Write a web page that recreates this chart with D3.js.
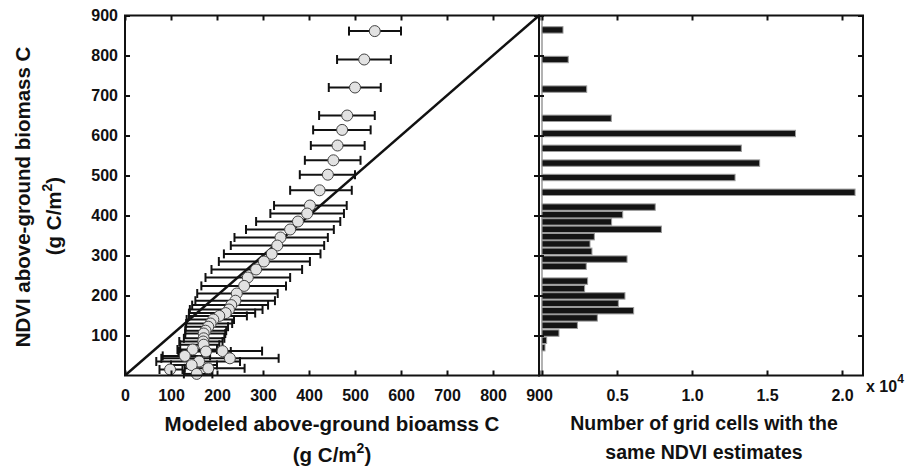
<!DOCTYPE html>
<html>
<head>
<meta charset="utf-8">
<script src="https://cdn.jsdelivr.net/npm/d3@7"></script>
<style>
  body { margin: 0; background: #fff; }
  svg text { font-family: "Liberation Sans", Arial, sans-serif; font-weight: bold; fill: #111; }
</style>
</head>
<body>
<svg id="chart" width="918" height="467"></svg>
<script>
// NDVI level (y) of each point, modeled mean and its error range (x)
const pointNdvi  = [861, 790, 720, 650, 614, 575, 538, 502, 463, 425, 405, 385, 365, 345, 325, 304, 285, 265, 245, 224, 205,
                    187, 176, 165, 156, 149, 140, 130, 122, 112, 105, 93, 85, 77, 65, 60, 61, 49, 43, 35, 26, 18, 15, 4];
const pointModel = [543, 520, 500, 483, 472, 462, 453, 441, 423, 402, 396, 376, 359, 338, 331, 319, 302, 285, 267, 259, 243,
                    240, 231, 226, 219, 205, 192, 186, 181, 175, 171, 171, 170, 171, 147, 176, 212, 130, 228, 161, 145, 181, 98, 156];
const pointLow   = [487, 461, 443, 422, 409, 404, 391, 380, 359, 324, 316, 285, 263, 238, 230, 215, 204, 188, 175, 166, 157,
                    153, 146, 141, 139, 139, 134, 133, 132, 131, 131, 128, 118, 120, 114, 118, 116, 82, 79, 68, 100, 130, 75, 128];
const pointHigh  = [600, 578, 556, 543, 534, 521, 512, 500, 493, 482, 476, 468, 454, 441, 433, 425, 402, 385, 359, 350, 332,
                    326, 311, 299, 283, 265, 237, 233, 224, 220, 218, 216, 212, 205, 200, 230, 298, 185, 334, 250, 200, 260, 125, 190];

// histogram: NDVI level and number of grid cells
const barNdvi  = [864, 790, 716, 643, 605, 568, 531, 495, 458, 421, 402, 384, 365.5, 347, 329, 310.5, 291, 273,
                  236, 217, 199, 180.5, 162, 144, 125.5, 106, 88, 69.5];
const barCount = [1400, 1750, 2980, 4620, 16900, 13290, 14510, 12870, 20870, 7550, 5380, 4640, 7960, 3490, 3200, 3330, 5670, 2950,
                  3040, 2840, 5530, 5090, 6110, 3690, 2360, 1130, 310, 200];

const leftTicks  = [0, 100, 200, 300, 400, 500, 600, 700, 800, 900];
const yTicks     = [100, 200, 300, 400, 500, 600, 700, 800, 900];
const rightTicks = [0, 5000, 10000, 15000, 20000];

const svg = d3.select('#chart');

const plotTop = 15.5, plotBottom = 375.5;
const yScale = d3.scaleLinear().domain([0, 900]).range([plotBottom, plotTop]);
const xLeft = d3.scaleLinear().domain([0, 900]).range([125, 539]);
const xRight = d3.scaleLinear().domain([-200, 21400]).range([539, 863]);

function styleAxis(g) {
    g.select('.domain').remove();
    g.selectAll('.tick line').attr('stroke', '#111').attr('stroke-width', 2);
    g.selectAll('.tick text').style('font-size', '16px');
}

// ---- left panel ----
const left = svg.append('g');

left.append('clipPath').attr('id', 'clipL')
    .append('rect').attr('x', 125).attr('y', plotTop).attr('width', 414).attr('height', plotBottom - plotTop);

left.append('line')
    .attr('clip-path', 'url(#clipL)')
    .attr('x1', xLeft(0)).attr('y1', yScale(0))
    .attr('x2', xLeft(900)).attr('y2', yScale(900))
    .attr('stroke', '#111').attr('stroke-width', 2.5);

const pts = pointNdvi.map((y, i) => ({ y: y, x: pointModel[i], lo: pointLow[i], hi: pointHigh[i] }));

const err = left.append('g').attr('stroke', '#111').attr('stroke-width', 2);
err.selectAll('.bar').data(pts).enter().append('line')
    .attr('x1', d => xLeft(d.lo)).attr('x2', d => xLeft(d.hi))
    .attr('y1', d => yScale(d.y)).attr('y2', d => yScale(d.y));
err.selectAll('.capL').data(pts).enter().append('line')
    .attr('x1', d => xLeft(d.lo)).attr('x2', d => xLeft(d.lo))
    .attr('y1', d => yScale(d.y) - 4.5).attr('y2', d => yScale(d.y) + 4.5);
err.selectAll('.capH').data(pts).enter().append('line')
    .attr('x1', d => xLeft(d.hi)).attr('x2', d => xLeft(d.hi))
    .attr('y1', d => yScale(d.y) - 4.5).attr('y2', d => yScale(d.y) + 4.5);

left.selectAll('circle').data(pts).enter().append('circle')
    .attr('cx', d => xLeft(d.x)).attr('cy', d => yScale(d.y)).attr('r', 5.5)
    .attr('fill', '#e2e2e2').attr('stroke', '#444').attr('stroke-width', 1);

left.append('g').attr('transform', `translate(0,${plotBottom})`)
    .call(d3.axisBottom(xLeft).tickValues(leftTicks).tickSize(-5).tickPadding(14))
    .call(styleAxis);
left.append('g').attr('transform', `translate(0,${plotTop})`)
    .call(d3.axisTop(xLeft).tickValues(leftTicks).tickSize(-5).tickFormat(''))
    .call(styleAxis);
left.append('g').attr('transform', 'translate(125,0)')
    .call(d3.axisLeft(yScale).tickValues(yTicks).tickSize(-5).tickPadding(7))
    .call(styleAxis);
left.append('g').attr('transform', 'translate(539,0)')
    .call(d3.axisRight(yScale).tickValues(yTicks).tickSize(-5).tickFormat(''))
    .call(styleAxis);

left.append('rect').attr('x', 125).attr('y', plotTop).attr('width', 414).attr('height', plotBottom - plotTop)
    .attr('fill', 'none').attr('stroke', '#111').attr('stroke-width', 2);

// ---- right panel ----
const right = svg.append('g');
const barH = yScale(0) - yScale(16);

right.append('line')
    .attr('x1', xRight(0)).attr('x2', xRight(0)).attr('y1', plotTop).attr('y2', plotBottom)
    .attr('stroke', '#999').attr('stroke-width', 1.5);

right.selectAll('rect.bar').data(barNdvi).enter().append('rect')
    .attr('class', 'bar')
    .attr('x', xRight(0))
    .attr('y', d => yScale(d) - barH / 2)
    .attr('width', (d, i) => xRight(barCount[i]) - xRight(0))
    .attr('height', barH)
    .attr('fill', '#141414').attr('stroke', '#9a9a9a').attr('stroke-width', 1);

right.append('g').attr('transform', `translate(0,${plotBottom})`)
    .call(d3.axisBottom(xRight).tickValues(rightTicks).tickSize(-5).tickPadding(14)
        .tickFormat(d => d == 0 ? '' : (d / 10000).toFixed(1)))
    .call(styleAxis);
right.append('g').attr('transform', `translate(0,${plotTop})`)
    .call(d3.axisTop(xRight).tickValues(rightTicks).tickSize(-5).tickFormat(''))
    .call(styleAxis);
right.append('g').attr('transform', 'translate(539,0)')
    .call(d3.axisLeft(yScale).tickValues(yTicks).tickSize(-5).tickFormat(''))
    .call(styleAxis);
right.append('g').attr('transform', 'translate(863,0)')
    .call(d3.axisRight(yScale).tickValues(yTicks).tickSize(-5).tickFormat(''))
    .call(styleAxis);

right.append('rect').attr('x', 539).attr('y', plotTop).attr('width', 324).attr('height', plotBottom - plotTop)
    .attr('fill', 'none').attr('stroke', '#111').attr('stroke-width', 2);

const mult = svg.append('text').attr('x', 866).attr('y', 392).style('font-size', '16px');
mult.append('tspan').text('x 10');
mult.append('tspan').attr('dy', -9).style('font-size', '12px').text('4');

// ---- titles ----
svg.append('text').attr('x', 332).attr('y', 431).attr('text-anchor', 'middle')
    .style('font-size', '20.5px').text('Modeled above-ground bioamss C');
const xt2 = svg.append('text').attr('x', 332).attr('y', 462).attr('text-anchor', 'middle').style('font-size', '20.5px');
xt2.append('tspan').text('(g C/m');
xt2.append('tspan').attr('dy', -9).style('font-size', '14px').text('2');
xt2.append('tspan').attr('dy', 9).text(')');

svg.append('text').attr('x', 704).attr('y', 430).attr('text-anchor', 'middle')
    .style('font-size', '19.5px').text('Number of grid cells with the');
svg.append('text').attr('x', 704).attr('y', 459).attr('text-anchor', 'middle')
    .style('font-size', '19.5px').text('same NDVI estimates');

svg.append('text').attr('transform', 'translate(30,197) rotate(-90)').attr('text-anchor', 'middle')
    .style('font-size', '20.5px').text('NDVI above-ground biomass C');
const yt2 = svg.append('text').attr('transform', 'translate(61,216) rotate(-90)').attr('text-anchor', 'middle')
    .style('font-size', '20.5px');
yt2.append('tspan').text('(g C/m');
yt2.append('tspan').attr('dy', -9).style('font-size', '14px').text('2');
yt2.append('tspan').attr('dy', 9).text(')');
</script>
</body>
</html>
